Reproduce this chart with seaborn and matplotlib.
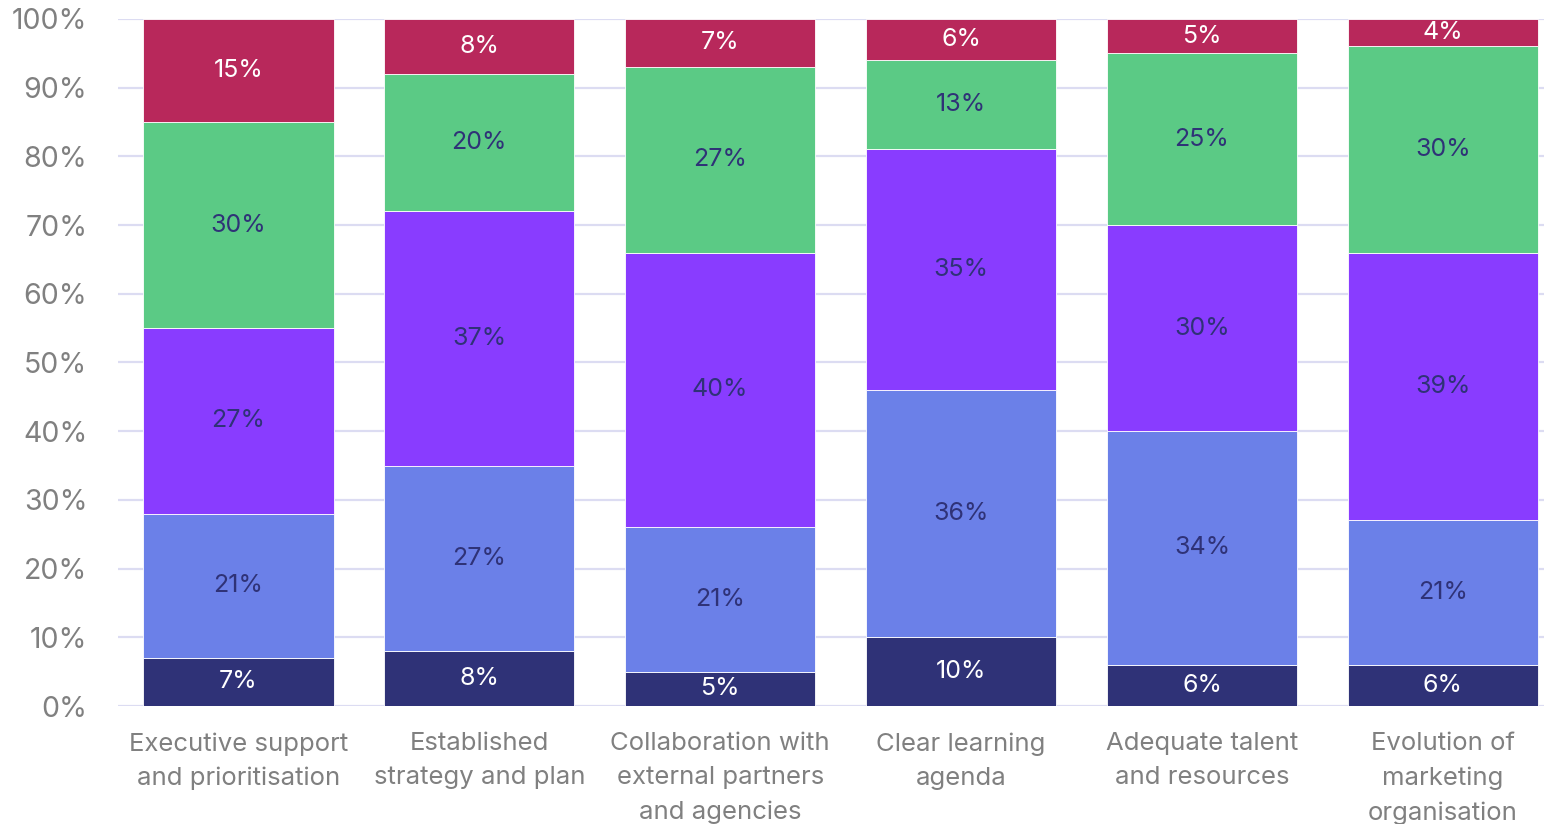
import numpy as np
import matplotlib.pyplot as plt
import seaborn as sns
import pandas as pd

# Categories and stacked shares (bottom to top), in percent
categories = [
    "Executive support\nand prioritisation",
    "Established\nstrategy and plan",
    "Collaboration with\nexternal partners\nand agencies",
    "Clear learning\nagenda",
    "Adequate talent\nand resources",
    "Evolution of\nmarketing\norganisation",
]
seg1 = [7, 8, 5, 10, 6, 6]
seg2 = [21, 27, 21, 36, 34, 21]
seg3 = [27, 37, 40, 35, 30, 39]
seg4 = [30, 20, 27, 13, 25, 30]
seg5 = [15, 8, 7, 6, 5, 4]

series = [seg1, seg2, seg3, seg4, seg5]
colors = ["#2F3277", "#6B80E8", "#893CFF", "#5BCA85", "#B8285B"]
text_colors = ["white", "#2F3277", "#2F3277", "#2F3277", "white"]

sns.set_theme(style="white")
plt.rcParams['font.family'] = ['Inter', 'DejaVu Sans']

fig = plt.figure(figsize=(15.44, 8.24), dpi=100)
ax = fig.add_axes([0.0764, 0.1432, 0.9236, 0.8338])

x = np.arange(len(categories))
bottom = np.zeros(len(categories))
for vals, col, tcol in zip(series, colors, text_colors):
    df = pd.DataFrame({"x": x, "v": vals, "b": bottom})
    ax.bar(df["x"], df["v"], bottom=df["b"], width=0.79, color=col,
           edgecolor="white", linewidth=0.6, zorder=3)
    for xi, v, b in zip(x, vals, bottom):
        ax.text(xi, b + v / 2, f"{v}%", ha="center", va="center",
                fontsize=18, color=tcol, zorder=4)
    bottom = bottom + np.array(vals)

ax.set_xlim(-0.5, 5.42)
ax.set_ylim(0, 100)
ax.set_yticks(np.arange(0, 101, 10))
ax.set_yticklabels([f"{t}%" for t in range(0, 101, 10)], fontsize=20.5, color="#808080")
ax.set_xticks(x)
ax.set_xticklabels(categories, fontsize=18.5, color="#808080", linespacing=1.6)
ax.tick_params(axis="both", length=0)
ax.tick_params(axis="y", pad=22)
ax.tick_params(axis="x", pad=19)
ax.grid(axis="y", color="#DCDCF2", linewidth=1.6, zorder=0)
for s in ax.spines.values():
    s.set_visible(False)

fig.savefig("out.png", dpi=100)
